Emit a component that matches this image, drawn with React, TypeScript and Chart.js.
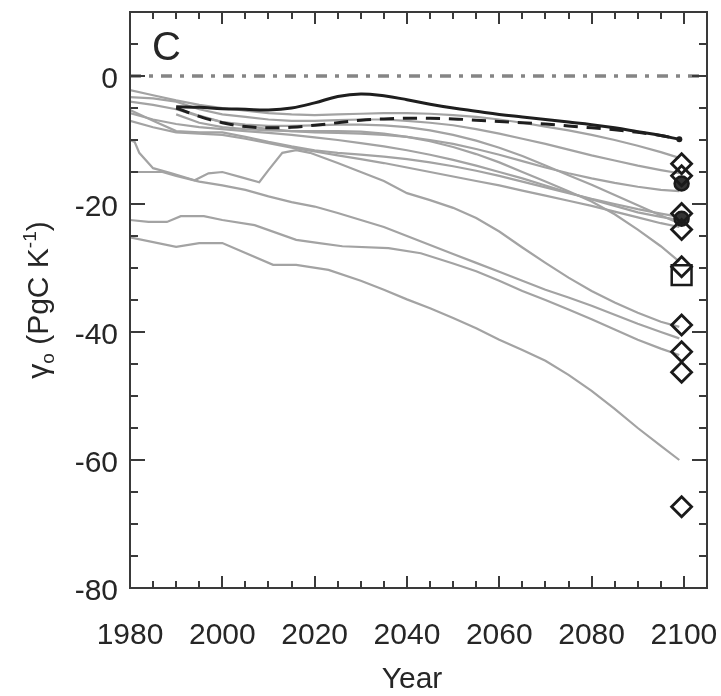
import React, { useEffect, useRef } from "react";
import { Chart, registerables } from "chart.js";

Chart.register(...registerables);

// ---- axes ----
const X_MIN = 1980;
const X_MAX = 2105;
const Y_MIN = -80;
const Y_MAX = 10;
const X_TICKS = [1980, 2000, 2020, 2040, 2060, 2080, 2100];
const Y_TICKS = [-80, -60, -40, -20, 0];
const X_MINOR_STEP = 5;
const Y_MINOR_STEP = 5;

// ---- shared year grids ----
const YEARS_80 = [1980, 1985, 1990, 1995, 2000, 2005, 2010, 2015, 2020, 2025, 2030, 2035, 2040, 2045, 2050, 2055, 2060, 2065, 2070, 2075, 2080, 2085, 2090, 2095, 2099];
const YEARS_90 = [1990, 1995, 2000, 2005, 2010, 2015, 2020, 2025, 2030, 2035, 2040, 2045, 2050, 2055, 2060, 2065, 2070, 2075, 2080, 2085, 2090, 2095, 2099];

// ---- black lines ----
const BLACK_SOLID = [-4.8, -4.9, -5.1, -5.2, -5.3, -5.0, -4.2, -3.2, -2.8, -3.1, -3.7, -4.4, -5.0, -5.5, -6.0, -6.4, -6.8, -7.2, -7.6, -8.1, -8.7, -9.3, -9.9];
const BLACK_DASHED = [-5.0, -6.3, -7.3, -7.9, -8.1, -8.0, -7.7, -7.3, -6.9, -6.7, -6.6, -6.6, -6.7, -6.9, -7.1, -7.3, -7.5, -7.8, -8.1, -8.4, -8.8, -9.3, -9.9];

// ---- grey model lines on YEARS_80 ----
const GREY_1 = [-2.2, -3.0, -3.8, -4.5, -5.0, -5.4, -5.8, -6.0, -6.1, -6.0, -5.9, -5.8, -5.8, -5.9, -6.1, -6.4, -6.8, -7.3, -7.9, -8.5, -9.2, -10.0, -10.9, -11.9, -12.8];
const GREY_2 = [-3.3, -3.5, -4.0, -5.2, -6.0, -6.4, -6.8, -7.0, -7.0, -6.9, -6.8, -6.8, -7.0, -7.3, -7.7, -8.3, -9.0, -9.8, -10.6, -11.5, -12.4, -13.2, -14.0, -14.7, -15.2];
const GREY_3 = [-4.0, -4.5, -5.2, -6.3, -7.2, -7.8, -8.3, -8.6, -8.8, -8.9, -9.0, -9.2, -9.5, -10.0, -10.6, -11.4, -12.3, -13.3, -14.3, -15.2, -16.0, -16.7, -17.3, -17.8, -18.0];
const GREY_4 = [-5.3, -7.0, -8.6, -8.8, -8.8, -9.5, -10.3, -11.0, -11.6, -12.0, -12.3, -12.6, -13.0, -13.5, -14.1, -14.8, -15.6, -16.5, -17.4, -18.3, -19.2, -20.0, -20.8, -21.5, -22.0];
const GREY_5 = [-5.8, -6.8, -7.5, -8.0, -8.3, -8.6, -8.9, -9.2, -9.6, -10.0, -10.5, -11.0, -11.6, -12.3, -13.1, -14.0, -15.0, -16.0, -17.1, -18.2, -19.3, -20.3, -21.3, -22.0, -22.5];
const GREY_8 = [-7.0, -8.0, -8.8, -9.0, -9.2, -9.8, -10.5, -11.2, -11.8, -12.4, -13.0, -13.6, -14.3, -15.0, -15.7, -16.4, -17.1, -17.9, -18.7, -19.5, -20.3, -21.2, -22.1, -23.0, -23.6];

// ---- grey model lines on YEARS_90 ----
const GREY_6 = [-5.0, -6.2, -7.2, -7.6, -7.8, -7.8, -7.7, -7.6, -7.6, -7.7, -8.0, -8.5, -9.2, -10.1, -11.2, -12.5, -14.0, -15.5, -17.0, -18.6, -20.2, -21.8, -23.0];
const GREY_7 = [-6.0, -7.3, -8.0, -8.3, -8.5, -8.6, -8.6, -8.6, -8.7, -9.0, -9.5, -10.2, -11.1, -12.2, -13.5, -15.0, -16.5, -18.0, -19.6, -21.6, -24.0, -26.6, -29.0];

// ---- grey model lines with their own years ----
const HOOK_YEARS = [1980, 1981, 1982, 1985, 1989, 1994, 1997, 2000, 2004, 2008, 2010, 2013, 2016, 2019, 2025, 2030, 2035, 2040, 2045, 2050, 2055, 2060, 2065, 2070, 2075, 2080, 2085, 2090, 2095, 2099];
const HOOK_VALUES = [-10.0, -10.3, -12.0, -14.4, -15.2, -16.3, -15.2, -15.0, -15.8, -16.6, -14.7, -12.0, -11.6, -12.0, -13.6, -15.0, -16.4, -18.3, -19.4, -20.6, -22.2, -24.3, -26.8, -29.2, -31.5, -33.6, -35.4, -37.0, -38.4, -39.2];
const FLAT_YEARS = [1980, 1987, 1990, 1995, 2000, 2005, 2010, 2015, 2020, 2025, 2030, 2035, 2040, 2045, 2050, 2055, 2060, 2065, 2070, 2075, 2080, 2085, 2090, 2095, 2099];
const FLAT_VALUES = [-15.0, -15.0, -15.6, -16.5, -17.1, -17.8, -18.8, -19.7, -20.4, -21.4, -22.5, -23.6, -25.0, -26.4, -27.8, -29.2, -30.6, -32.0, -33.4, -34.6, -35.9, -37.3, -38.7, -40.0, -41.0];
const WAVY_YEARS = [1980, 1984, 1988, 1991, 1996, 2000, 2007, 2016, 2021, 2026, 2036, 2043, 2050, 2055, 2060, 2065, 2070, 2075, 2080, 2085, 2090, 2095, 2099];
const WAVY_VALUES = [-22.5, -22.8, -22.8, -21.9, -21.9, -22.5, -23.3, -25.6, -26.1, -26.6, -26.9, -27.7, -29.3, -30.5, -32.0, -33.6, -35.0, -36.5, -38.0, -39.6, -41.2, -42.6, -43.6];
const LOW_YEARS = [1980, 1990, 1995, 2000, 2011, 2016, 2023, 2030, 2035, 2040, 2045, 2050, 2055, 2060, 2065, 2070, 2075, 2080, 2085, 2090, 2095, 2099];
const LOW_VALUES = [-25.2, -26.7, -26.1, -26.1, -29.5, -29.5, -30.3, -32.0, -33.4, -34.9, -36.3, -37.8, -39.4, -41.2, -42.8, -44.5, -46.7, -49.2, -52.0, -55.0, -57.8, -60.0];

// ---- end-of-century markers ----
const MARKER_YEAR = 2099.5;
const DIAMOND_VALUES = [-13.7, -15.6, -21.5, -24.0, -29.8, -38.9, -43.1, -46.3, -67.3];
const CIRCLE_VALUES = [-16.8, -22.3];
const SQUARE_VALUES = [-31.1];
const ZERO_LINE = [0, 0];

const TEXT = "#262626";
const FONT = "'Liberation Sans', Arial, Helvetica, sans-serif";

const pts = (xs: number[], ys: number[]) => xs.map((x, i) => ({ x, y: ys[i] }));

const greyLine = (xs: number[], ys: number[]) => ({
  type: "line" as const,
  data: pts(xs, ys),
  borderColor: "#a3a3a3",
  borderWidth: 2.2,
  pointRadius: 0,
  tension: 0,
  fill: false,
  order: 3,
});

const frameTicks = {
  id: "frameTicks",
  afterDatasetsDraw(chart: any) {
    const { ctx, chartArea } = chart;
    const { left, right, top, bottom } = chartArea;
    const xs = chart.scales.x;
    const ys = chart.scales.y;
    ctx.save();
    ctx.strokeStyle = "#3a3a3a";
    ctx.lineWidth = 2;
    ctx.strokeRect(left, top, right - left, bottom - top);
    const major = 12;
    const minor = 7;
    for (let v = X_MIN; v <= X_MAX; v += X_MINOR_STEP) {
      const px = Math.round(xs.getPixelForValue(v));
      const len = X_TICKS.includes(v) ? major : minor;
      ctx.beginPath();
      ctx.moveTo(px, bottom);
      ctx.lineTo(px, bottom - len);
      ctx.moveTo(px, top);
      ctx.lineTo(px, top + len);
      ctx.stroke();
    }
    for (let v = Y_MIN; v <= Y_MAX; v += Y_MINOR_STEP) {
      const py = Math.round(ys.getPixelForValue(v));
      const len = Y_TICKS.includes(v) ? major + 3 : minor + 1;
      ctx.beginPath();
      ctx.moveTo(left, py);
      ctx.lineTo(left + len, py);
      ctx.moveTo(right, py);
      ctx.lineTo(right - len, py);
      ctx.stroke();
    }
    ctx.restore();
  },
  afterDraw(chart: any) {
    const { ctx, chartArea } = chart;
    ctx.save();
    ctx.fillStyle = TEXT;
    ctx.font = `40px ${FONT}`;
    ctx.textAlign = "left";
    ctx.textBaseline = "alphabetic";
    ctx.fillText("C", chartArea.left + 22, chartArea.top + 48);
    ctx.font = `30px ${FONT}`;
    ctx.textAlign = "center";
    ctx.textBaseline = "middle";
    ctx.fillText("Year", 412, 680);
    ctx.translate(38, 300);
    ctx.rotate(-Math.PI / 2);
    const big = `30px ${FONT}`;
    const small = `19px ${FONT}`;
    const parts = [
      { t: "γ", f: big, dy: 0 },
      { t: "o", f: small, dy: 6 },
      { t: " (PgC K", f: big, dy: 0 },
      { t: "-1", f: small, dy: -12 },
      { t: ")", f: big, dy: 0 },
    ];
    let total = 0;
    for (const p of parts) {
      ctx.font = p.f;
      total += ctx.measureText(p.t).width;
    }
    let cx = -total / 2;
    ctx.textAlign = "left";
    ctx.textBaseline = "alphabetic";
    for (const p of parts) {
      ctx.font = p.f;
      ctx.fillText(p.t, cx, 10 + p.dy);
      cx += ctx.measureText(p.t).width;
    }
    ctx.restore();
  },
};

export default function App() {
  const ref = useRef<HTMLCanvasElement>(null);
  useEffect(() => {
    if (!ref.current) return;
    const chart = new Chart(ref.current, {
      type: "line",
      data: {
        datasets: [
          {
            type: "scatter",
            data: DIAMOND_VALUES.map((y) => ({ x: MARKER_YEAR, y })),
            pointStyle: "rectRot",
            pointRadius: 10,
            borderColor: "#1a1a1a",
            backgroundColor: "rgba(0,0,0,0)",
            pointBorderWidth: 2.8,
            showLine: false,
            order: 0,
          } as any,
          {
            type: "scatter",
            data: CIRCLE_VALUES.map((y) => ({ x: MARKER_YEAR, y })),
            pointStyle: "circle",
            pointRadius: 7,
            borderColor: "#1a1a1a",
            backgroundColor: "#333333",
            pointBorderWidth: 2.5,
            showLine: false,
            order: 0,
          } as any,
          {
            type: "scatter",
            data: SQUARE_VALUES.map((y) => ({ x: MARKER_YEAR, y })),
            pointStyle: "rect",
            pointRadius: 14,
            borderColor: "#1a1a1a",
            backgroundColor: "rgba(0,0,0,0)",
            pointBorderWidth: 2.5,
            showLine: false,
            order: 0,
          } as any,
          {
            type: "line",
            data: pts(YEARS_90, BLACK_SOLID),
            borderColor: "#1e1e1e",
            borderWidth: 3,
            pointRadius: BLACK_SOLID.map((_, i) => (i === BLACK_SOLID.length - 1 ? 3 : 0)),
            pointBackgroundColor: "#1e1e1e",
            pointBorderWidth: 0,
            tension: 0.4,
            fill: false,
            order: 1,
          },
          {
            type: "line",
            data: pts(YEARS_90, BLACK_DASHED),
            borderColor: "#1e1e1e",
            borderWidth: 3,
            borderDash: [14, 9],
            pointRadius: 0,
            tension: 0.4,
            fill: false,
            order: 2,
          },
          greyLine(YEARS_80, GREY_1),
          greyLine(YEARS_80, GREY_2),
          greyLine(YEARS_80, GREY_3),
          greyLine(YEARS_80, GREY_4),
          greyLine(YEARS_80, GREY_5),
          greyLine(YEARS_90, GREY_6),
          greyLine(YEARS_90, GREY_7),
          greyLine(YEARS_80, GREY_8),
          greyLine(HOOK_YEARS, HOOK_VALUES),
          greyLine(FLAT_YEARS, FLAT_VALUES),
          greyLine(WAVY_YEARS, WAVY_VALUES),
          greyLine(LOW_YEARS, LOW_VALUES),
          {
            type: "line",
            data: pts([X_MIN, X_MAX], ZERO_LINE),
            borderColor: "#858585",
            borderWidth: 3.5,
            borderDash: [11, 8, 4, 8],
            pointRadius: 0,
            fill: false,
            order: 4,
          },
        ] as any,
      },
      options: {
        animation: false,
        responsive: false,
        devicePixelRatio: 1,
        layout: { autoPadding: false, padding: { left: 0, right: 14, top: 12, bottom: 0 } },
        plugins: { legend: { display: false }, tooltip: { enabled: false }, title: { display: false } },
        scales: {
          x: {
            type: "linear",
            min: X_MIN,
            max: X_MAX,
            grid: { display: false, drawTicks: false },
            border: { display: false },
            ticks: {
              color: TEXT,
              font: { family: FONT, size: 30 },
              padding: 30,
              maxRotation: 0,
              autoSkip: false,
              callback: (v: any) => String(v),
            },
            afterBuildTicks: (s: any) => {
              s.ticks = X_TICKS.map((value) => ({ value }));
            },
            afterFit: (s: any) => {
              s.height = 108;
              s.paddingLeft = 0;
              s.paddingRight = 0;
            },
          },
          y: {
            type: "linear",
            min: Y_MIN,
            max: Y_MAX,
            grid: { display: false, drawTicks: false },
            border: { display: false },
            ticks: {
              color: TEXT,
              font: { family: FONT, size: 30 },
              padding: 12,
              labelOffset: 4,
              autoSkip: false,
              callback: (v: any) => String(v),
            },
            afterBuildTicks: (s: any) => {
              s.ticks = Y_TICKS.map((value) => ({ value }));
            },
            afterFit: (s: any) => {
              s.width = 130;
              s.paddingTop = 0;
              s.paddingBottom = 0;
            },
          },
        },
      },
      plugins: [frameTicks],
    });
    return () => chart.destroy();
  }, []);
  return (
    <div style={{ position: "absolute", left: 0, top: 0, width: 721, height: 696, background: "#fff" }}>
      <canvas ref={ref} width={721} height={696} style={{ width: 721, height: 696, display: "block" }} />
    </div>
  );
}
